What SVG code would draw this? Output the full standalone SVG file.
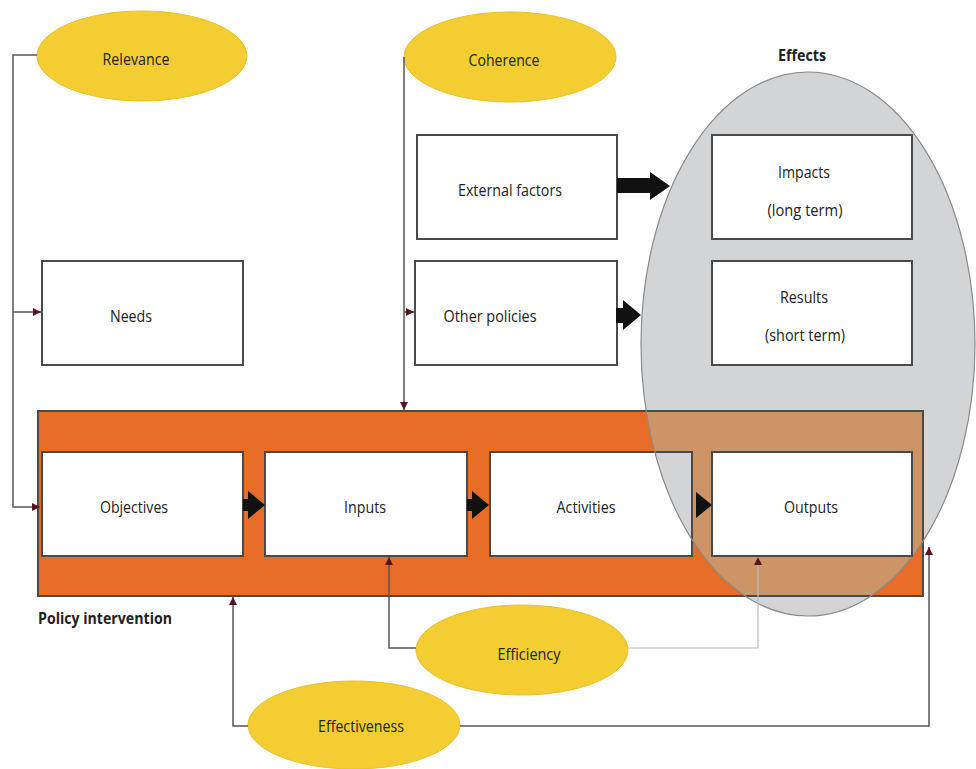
<svg xmlns="http://www.w3.org/2000/svg" width="976" height="769" viewBox="0 0 976 769">
<style>
.box{fill:#fff;stroke:#4a4a4a;stroke-width:2}
.oval{fill:#F4CD32;stroke:#E9C12A;stroke-width:1}
.t{font-family:"Open Sans","Liberation Sans",sans-serif;font-size:16px;fill:#222;text-anchor:middle;lengthAdjust:spacingAndGlyphs}
.b{font-family:"Open Sans","Liberation Sans",sans-serif;font-size:16px;font-weight:bold;fill:#222}
.con{fill:none;stroke:#555;stroke-width:1.5}
.light{fill:none;stroke:#bdbdbd;stroke-width:1.2}
.thick{fill:#111}
</style>
<defs>
<marker id="ah" markerUnits="userSpaceOnUse" markerWidth="9" markerHeight="9" refX="8" refY="4" orient="auto">
<path d="M0,0 L8,4 L0,8 z" fill="#5B1320"/>
</marker>
<clipPath id="effclip"><ellipse cx="808" cy="344" rx="167" ry="272"/></clipPath>
</defs>

<rect width="976" height="769" fill="#fff"/>

<g id="policy-intervention">
<rect x="38" y="411" width="885" height="185" fill="#E76C27" stroke="#4a4a4a" stroke-width="2"/>
<text class="b" x="38" y="624" textLength="134" lengthAdjust="spacingAndGlyphs">Policy intervention</text>
</g>

<g id="objectives"><rect class="box" x="42" y="452" width="201" height="104"/><text class="t" x="134" y="513" textLength="68" lengthAdjust="spacingAndGlyphs">Objectives</text></g>
<g id="inputs"><rect class="box" x="265" y="452" width="202" height="104"/><text class="t" x="365" y="513" textLength="42" lengthAdjust="spacingAndGlyphs">Inputs</text></g>
<g id="activities"><rect class="box" x="490" y="452" width="202" height="104"/><text class="t" x="586" y="513" textLength="59" lengthAdjust="spacingAndGlyphs">Activities</text></g>

<g id="effects">
<ellipse cx="808" cy="344" rx="167" ry="272" fill="#D3D4D6"/>
<path clip-path="url(#effclip)" fill="#CD9466" fill-rule="evenodd" d="M38,411 H923 V596 H38 Z M490,452 H692 V556 H490 Z"/>
<rect x="490" y="452" width="202" height="104" fill="none" stroke="#4a4a4a" stroke-width="2"/>
<rect x="38" y="411" width="885" height="185" fill="none" stroke="#4a4a4a" stroke-width="2" clip-path="url(#effclip)"/>
<ellipse cx="808" cy="344" rx="167" ry="272" fill="none" stroke="#8a8a8a" stroke-width="1.2"/>
<text class="b" x="802" y="61" text-anchor="middle" textLength="48" lengthAdjust="spacingAndGlyphs">Effects</text>
</g>

<g id="outputs"><rect class="box" x="712" y="452" width="200" height="104"/><text class="t" x="811" y="513" textLength="54" lengthAdjust="spacingAndGlyphs">Outputs</text></g>
<g id="impacts"><rect class="box" x="712" y="135" width="200" height="104"/><text class="t" x="804" y="178" textLength="52" lengthAdjust="spacingAndGlyphs">Impacts</text><text class="t" x="805" y="216" textLength="75" lengthAdjust="spacingAndGlyphs">(long term)</text></g>
<g id="results"><rect class="box" x="712" y="261" width="200" height="104"/><text class="t" x="804" y="303" textLength="48" lengthAdjust="spacingAndGlyphs">Results</text><text class="t" x="805" y="341" textLength="80" lengthAdjust="spacingAndGlyphs">(short term)</text></g>

<g id="external-factors"><rect class="box" x="417" y="135" width="200" height="104"/><text class="t" x="510" y="196" textLength="104" lengthAdjust="spacingAndGlyphs">External factors</text></g>
<g id="other-policies"><rect class="box" x="415" y="261" width="202" height="104"/><text class="t" x="490" y="322" textLength="93" lengthAdjust="spacingAndGlyphs">Other policies</text></g>
<g id="needs"><rect class="box" x="42" y="261" width="201" height="104"/><text class="t" x="131" y="322" textLength="42" lengthAdjust="spacingAndGlyphs">Needs</text></g>

<g id="relevance"><ellipse class="oval" cx="142" cy="56" rx="105" ry="45"/><text class="t" x="136" y="65" textLength="67" lengthAdjust="spacingAndGlyphs">Relevance</text></g>
<g id="coherence"><ellipse class="oval" cx="510" cy="57" rx="106" ry="45"/><text class="t" x="504" y="66" textLength="71" lengthAdjust="spacingAndGlyphs">Coherence</text></g>
<g id="efficiency"><ellipse class="oval" cx="522" cy="650" rx="106" ry="45"/><text class="t" x="529" y="660" textLength="63" lengthAdjust="spacingAndGlyphs">Efficiency</text></g>
<g id="effectiveness"><ellipse class="oval" cx="354" cy="725" rx="106" ry="44"/><text class="t" x="361" y="732" textLength="86" lengthAdjust="spacingAndGlyphs">Effectiveness</text></g>

<g id="connectors">
<path class="con" d="M37,55 H13 V507 H40" marker-end="url(#ah)"/>
<path class="con" d="M13,312 H41" marker-end="url(#ah)"/>
<path class="con" d="M404,57 V410" marker-end="url(#ah)"/>
<path class="con" d="M404,312 H414" marker-end="url(#ah)"/>
<path class="con" d="M416,648 H389 V557" marker-end="url(#ah)"/>
<path class="light" d="M628,648 H758 V557" marker-end="url(#ah)"/>
<path class="con" d="M248,726 H233 V597" marker-end="url(#ah)"/>
<path class="con" d="M460,726 H929 V547" marker-end="url(#ah)"/>
<path class="thick" d="M617,178 H650 V172 L670,186 L650,200 V193 H617 Z"/>
<path class="thick" d="M616,308 H623 V300 L641,315 L623,330 V323 H616 Z"/>
<path class="thick" d="M243,499 H248 V491 L265,505 L248,519 V511 H243 Z"/>
<path class="thick" d="M467,499 H472 V491 L489,505 L472,519 V511 H467 Z"/>
<path class="thick" d="M696,492 L712,505 L696,518 Z"/>
</g>
</svg>
